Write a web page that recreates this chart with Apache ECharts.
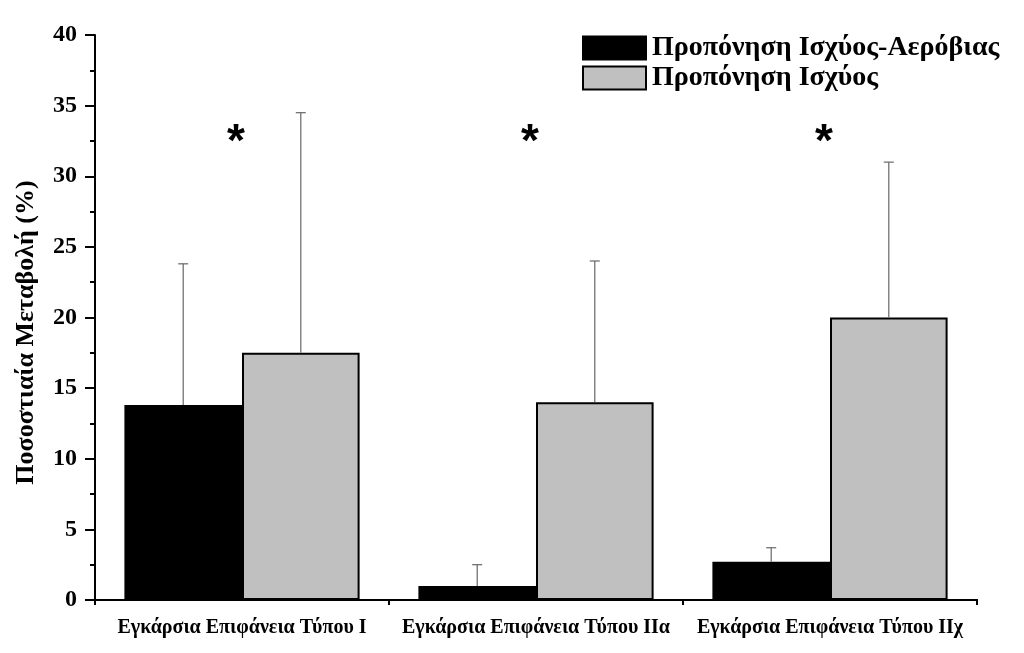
<!DOCTYPE html>
<html>
<head>
<meta charset="utf-8">
<script src="https://cdn.jsdelivr.net/npm/echarts@6/dist/echarts.min.js"></script>
<style>html,body{margin:0;padding:0;background:#fff;}#c{width:1024px;height:653px;}</style>
</head>
<body>
<div id="c"></div>
<script>
var categories = ['Εγκάρσια Επιφάνεια Τύπου Ι', 'Εγκάρσια Επιφάνεια Τύπου ΙΙα', 'Εγκάρσια Επιφάνεια Τύπου ΙΙχ'];
var seriesNames = ['Προπόνηση Ισχύος-Αερόβιας', 'Προπόνηση Ισχύος'];
var aerobicValues = [13.8, 1.0, 2.7];
var aerobicErrors = [10.0, 1.5, 1.0];
var strengthValues = [17.5, 14.0, 20.0];
var strengthErrors = [17.0, 10.0, 11.0];
var sigLevel = [33.2, 33.2, 33.2];
var sigMarks = ['*', '*', '*'];
var yTicks = [0, 5, 10, 15, 20, 25, 30, 35, 40];

var FONT = '"Liberation Serif", "Times New Roman", serif';

function errData(vals, errs) {
  return vals.map(function (v, i) { return [i, v, v + errs[i]]; });
}
function errRender(side) {
  return function (params, api) {
    var i = api.value(0);
    var base = api.coord([i, api.value(1)]);
    var top = api.coord([i, api.value(2)]);
    var band = api.size([1, 0])[0];
    var x = base[0] + side * band * 0.2;
    var cap = 5;
    var st = { stroke: '#666', lineWidth: 1.2 };
    return {
      type: 'group',
      children: [
        { type: 'line', shape: { x1: x, y1: base[1], x2: x, y2: top[1] }, style: st },
        { type: 'line', shape: { x1: x - cap, y1: top[1], x2: x + cap, y2: top[1] }, style: st }
      ]
    };
  };
}

var chart = echarts.init(document.getElementById('c'));
chart.setOption({
  animation: false,
  backgroundColor: '#fff',
  grid: { left: 95, right: 47, top: 35, bottom: 53 },
  legend: {
    orient: 'vertical',
    left: 577, top: 29,
    icon: 'rect',
    itemWidth: 63, itemHeight: 23, itemGap: 2,
    textStyle: { fontFamily: FONT, fontWeight: 'bold', fontSize: 28, lineHeight: 23, color: '#000', padding: [0, 0, 0, 1] },
    data: seriesNames
  },
  xAxis: [{
    type: 'category',
    data: categories,
    axisLine: { lineStyle: { color: '#000', width: 2 } },
    axisTick: { alignWithLabel: true, interval: 0, length: 10, lineStyle: { color: '#000', width: 2 } },
    axisLabel: { interval: 0, hideOverlap: false, margin: 18, fontFamily: FONT, fontWeight: 'bold', fontSize: 20, color: '#000' },
    splitLine: { show: false }
  }, {
    type: 'category',
    data: categories,
    position: 'bottom',
    offset: 0,
    axisLine: { show: true, lineStyle: { color: '#000', width: 2 } },
    axisTick: { show: true, interval: 0, length: 5, lineStyle: { color: '#000', width: 2 } },
    axisLabel: { show: false },
    splitLine: { show: false }
  }],
  yAxis: {
    type: 'value',
    min: 0, max: 40, interval: 5,
    axisLine: { show: true, lineStyle: { color: '#000', width: 2 } },
    axisTick: { show: true, length: 10, lineStyle: { color: '#000', width: 2 } },
    minorTick: { show: true, splitNumber: 2, length: 5, lineStyle: { color: '#000', width: 2 } },
    axisLabel: { margin: 18, fontFamily: FONT, fontWeight: 'bold', fontSize: 24, color: '#000',
      formatter: function (v) { return yTicks.indexOf(v) >= 0 ? String(v) : ''; } },
    splitLine: { show: false },
    name: 'Ποσοστιαία Μεταβολή (%)',
    nameLocation: 'middle',
    nameGap: 56,
    nameTextStyle: { fontFamily: FONT, fontWeight: 'bold', fontSize: 26, color: '#000', padding: [0, 30, 0, 0] }
  },
  series: [{
    name: seriesNames[0],
    type: 'bar',
    data: aerobicValues,
    barGap: '0%',
    barCategoryGap: '20%',
    itemStyle: { color: '#000', borderColor: '#000', borderWidth: 1.5 }
  }, {
    name: seriesNames[1],
    type: 'bar',
    data: strengthValues,
    barGap: '0%',
    barCategoryGap: '20%',
    itemStyle: { color: '#c0c0c0', borderColor: '#000', borderWidth: 2 }
  }, {
    type: 'custom',
    renderItem: errRender(-1),
    data: errData(aerobicValues, aerobicErrors),
    encode: { x: 0, y: [1, 2] },
    z: 3, silent: true
  }, {
    type: 'custom',
    renderItem: errRender(1),
    data: errData(strengthValues, strengthErrors),
    encode: { x: 0, y: [1, 2] },
    z: 3, silent: true
  }, {
    type: 'custom',
    renderItem: function (params, api) {
      var p = api.coord([api.value(0), api.value(1)]);
      return {
        type: 'text',
        style: { text: sigMarks[params.dataIndex], x: p[0] - 6, y: p[1] + 12, textAlign: 'center', textVerticalAlign: 'middle',
          fontFamily: '"Liberation Sans", Arial, sans-serif', fontWeight: 'bold', fontSize: 46, fill: '#000' }
      };
    },
    data: sigLevel.map(function (v, i) { return [i, v]; }),
    encode: { x: 0, y: 1 },
    z: 4, silent: true
  }]
});
</script>
</body>
</html>
